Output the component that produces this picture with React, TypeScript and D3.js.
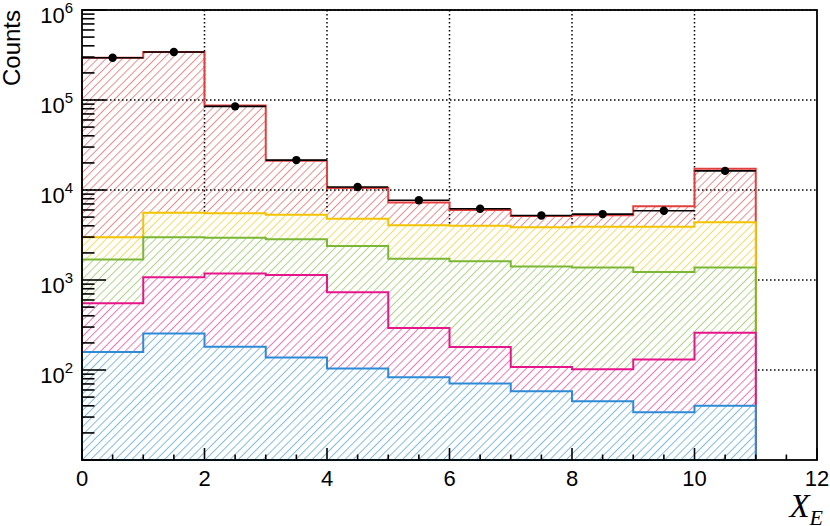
import React, { useEffect, useRef } from 'react';
import * as d3 from 'd3';

// bins are 0-1, 1-2, ... 10-11 on X_E
const binLow = [0, 1, 2, 3, 4, 5, 6, 7, 8, 9, 10];
const binWidth = 1;

// stack components, bottom first
const blueCounts = [158, 255, 181, 138, 104, 83, 71, 58, 45, 34, 40];
const magentaCounts = [392, 815, 999, 1002, 629, 209, 109, 50, 57, 97, 219];
const greenCounts = [1140, 1920, 1760, 1700, 1647, 1428, 1440, 1302, 1278, 1099, 1121];
const yellowCounts = [1300, 2580, 2560, 2460, 2410, 2340, 2380, 2450, 2520, 2670, 3010];
const redCounts = [292000, 336400, 81200, 15900, 5710, 3200, 2000, 1280, 1350, 2700, 12810];

// data points
const dataCounts = [295000, 342000, 85000, 21500, 10800, 7700, 6200, 5200, 5400, 5870, 16300];

const layerKeys = ['blue', 'magenta', 'green', 'yellow', 'red'];
const layerColors: Record<string, string> = {
  blue: '#2d8bd6',
  magenta: '#e6168a',
  green: '#7ab734',
  yellow: '#f4c300',
  red: '#e2403e',
};

const xTickValues = [0, 2, 4, 6, 8, 10, 12];
const yLabelPowers = [2, 3, 4, 5, 6];

export default function App() {
  const ref = useRef<SVGSVGElement>(null);
  const width = 830;
  const height = 526;
  const left = 82;
  const right = 817;
  const top = 10;
  const bottom = 460;

  useEffect(() => {
    const svg = d3.select(ref.current);
    svg.selectAll('*').remove();

    const x = d3.scaleLinear().domain([0, 12]).range([left, right]);
    const y = d3.scaleLog().domain([10, 1e6]).range([bottom, top]);

    const rows = binLow.map((b, i) => ({
      bin: b,
      blue: blueCounts[i],
      magenta: magentaCounts[i],
      green: greenCounts[i],
      yellow: yellowCounts[i],
      red: redCounts[i],
    }));
    const stacked = d3.stack<any>().keys(layerKeys)(rows);

    // hatch patterns, ROOT style 3004 "///"
    const defs = svg.append('defs');
    const hs = 5.8;
    layerKeys.forEach((k) => {
      const p = defs
        .append('pattern')
        .attr('id', 'hatch-' + k)
        .attr('patternUnits', 'userSpaceOnUse')
        .attr('width', hs)
        .attr('height', hs)
        .attr('patternTransform', 'rotate(45)');
      p.append('line')
        .attr('x1', 0.5)
        .attr('y1', 0)
        .attr('x2', 0.5)
        .attr('y2', hs)
        .attr('stroke', layerColors[k])
        .attr('stroke-opacity', 0.7)
        .attr('stroke-width', 0.85);
    });

    const stepPath = (tops: number[]) => {
      const pts: [number, number][] = [[x(0), bottom]];
      tops.forEach((v, i) => {
        pts.push([x(binLow[i]), y(v)]);
        pts.push([x(binLow[i] + binWidth), y(v)]);
      });
      pts.push([x(binLow[binLow.length - 1] + binWidth), bottom]);
      return d3.line()(pts) + 'Z';
    };

    const drawLayer = (k: string, opaque: boolean) => {
      const s = stacked.find((d) => d.key === k)!;
      const tops = s.map((d) => d[1]);
      const path = stepPath(tops);
      if (opaque) svg.append('path').attr('d', path).attr('fill', '#fff');
      svg.append('path').attr('d', path).attr('fill', `url(#hatch-${k})`);
      return path;
    };

    // red (total) goes first, grid sits over it
    const redPath = drawLayer('red', false);

    const grid = svg.append('g').attr('stroke', '#000').attr('stroke-width', 1.5).attr('stroke-dasharray', '1.5,2.5');
    xTickValues
      .filter((v) => v > 0 && v < 12)
      .forEach((v) => {
        grid.append('line').attr('x1', x(v)).attr('x2', x(v)).attr('y1', top).attr('y2', bottom);
      });
    yLabelPowers.forEach((p) => {
      grid.append('line').attr('x1', left).attr('x2', right).attr('y1', y(10 ** p)).attr('y2', y(10 ** p));
    });

    svg.append('path').attr('d', redPath).attr('fill', 'none').attr('stroke', layerColors.red).attr('stroke-width', 2);

    ['yellow', 'green', 'magenta', 'blue'].forEach((k) => {
      const path = drawLayer(k, true);
      svg.append('path').attr('d', path).attr('fill', 'none').attr('stroke', layerColors[k]).attr('stroke-width', 2);
    });

    // data: horizontal bars over the bin width plus markers
    svg
      .append('g')
      .selectAll('line')
      .data(dataCounts)
      .enter()
      .append('line')
      .attr('x1', (d, i) => x(binLow[i]))
      .attr('x2', (d, i) => x(binLow[i] + binWidth))
      .attr('y1', (d) => y(d))
      .attr('y2', (d) => y(d))
      .attr('stroke', '#000')
      .attr('stroke-width', 1.6);
    svg
      .append('g')
      .selectAll('circle')
      .data(dataCounts)
      .enter()
      .append('circle')
      .attr('cx', (d, i) => x(binLow[i] + binWidth / 2))
      .attr('cy', (d) => y(d))
      .attr('r', 4.2)
      .attr('fill', '#000');

    // frame
    svg
      .append('rect')
      .attr('x', left)
      .attr('y', top)
      .attr('width', right - left)
      .attr('height', bottom - top)
      .attr('fill', 'none')
      .attr('stroke', '#000')
      .attr('stroke-width', 1.8);

    // x ticks
    const ticks = svg.append('g').attr('stroke', '#000').attr('stroke-width', 1.6);
    d3.range(0, 12.01, 0.5).forEach((v) => {
      const major = v % 2 === 0;
      ticks
        .append('line')
        .attr('x1', x(v))
        .attr('x2', x(v))
        .attr('y1', bottom)
        .attr('y2', bottom - (major ? 12 : 5.5));
    });
    // y ticks (log)
    for (let p = 1; p < 6; p++) {
      for (let m = 1; m < 10; m++) {
        const v = m * 10 ** p;
        ticks
          .append('line')
          .attr('x1', left)
          .attr('x2', left + (m === 1 ? 24 : 12.5))
          .attr('y1', y(v))
          .attr('y2', y(v));
      }
    }
    ticks.append('line').attr('x1', left).attr('x2', left + 24).attr('y1', y(1e6)).attr('y2', y(1e6));

    const font = 'Liberation Sans, Arial, Helvetica, sans-serif';
    svg
      .append('g')
      .selectAll('text')
      .data(xTickValues)
      .enter()
      .append('text')
      .attr('x', (d) => x(d))
      .attr('y', bottom + 26)
      .attr('text-anchor', 'middle')
      .attr('font-family', font)
      .attr('font-size', 22)
      .text((d) => d);

    yLabelPowers.forEach((p) => {
      const t = svg
        .append('text')
        .attr('x', 73)
        .attr('y', y(10 ** p) + 12.6)
        .attr('text-anchor', 'end')
        .attr('font-family', font)
        .attr('font-size', 22);
      t.append('tspan').text('10');
      t.append('tspan').attr('font-size', 15).attr('dy', -10).text(p);
    });

    svg
      .append('text')
      .attr('transform', 'translate(20,10) rotate(-90)')
      .attr('text-anchor', 'end')
      .attr('font-family', font)
      .attr('font-size', 24)
      .text('Counts');

    const xt = svg
      .append('text')
      .attr('x', 823)
      .attr('y', 516.5)
      .attr('text-anchor', 'end')
      .attr('font-family', 'Liberation Serif, Times New Roman, serif')
      .attr('font-style', 'italic');
    xt.append('tspan').attr('font-size', 33).text('X');
    xt.append('tspan').attr('font-size', 22).attr('dy', 8).text('E');
  }, []);

  return (
    <div style={{ position: 'absolute', left: 0, top: 0 }}>
      <svg ref={ref} width={width} height={height} style={{ display: 'block', background: '#fff' }} />
    </div>
  );
}
